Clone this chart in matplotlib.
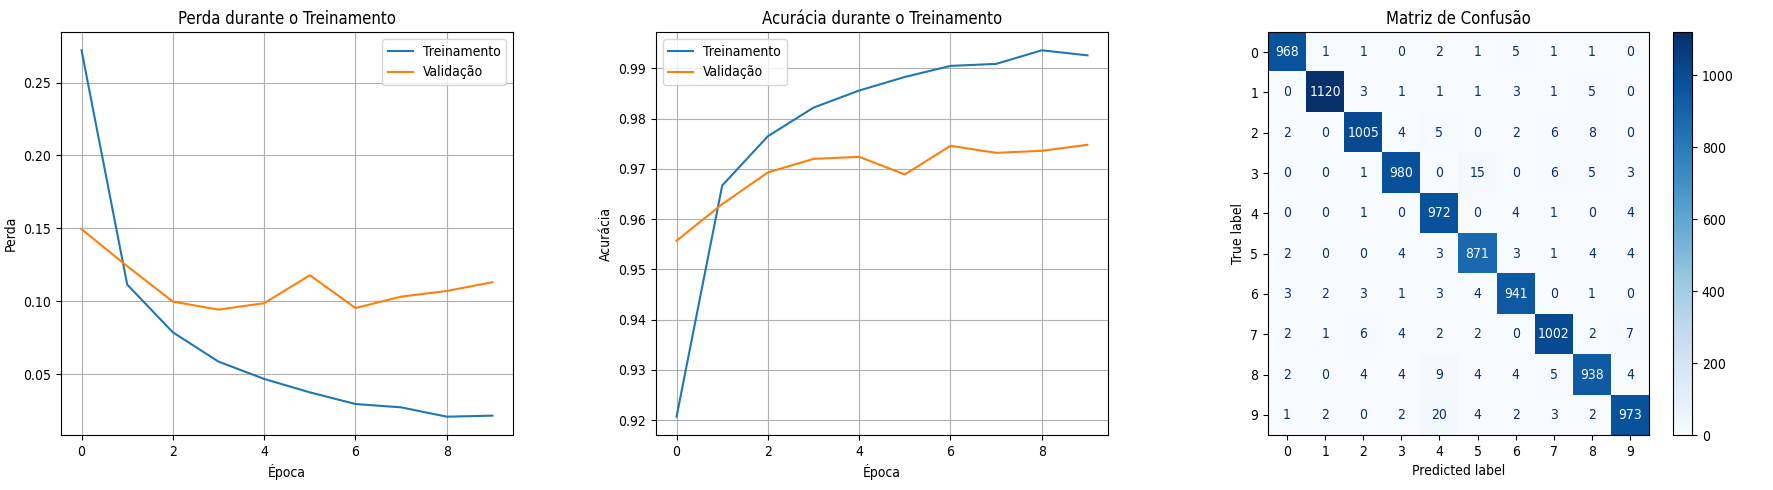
import matplotlib
matplotlib.use('Agg')
import matplotlib.pyplot as plt
import numpy as np

plt.rcParams['font.family'] = ['DejaVu Sans']
plt.rcParams['font.stretch'] = 'condensed'
plt.rcParams['legend.handlelength'] = 1.8
plt.rcParams['legend.handletextpad'] = 0.7

epocas = list(range(10))
perda_treino = [0.2722, 0.1114, 0.0786, 0.0585, 0.0466, 0.0374, 0.0294, 0.0271, 0.0207, 0.0214]
perda_val = [0.1494, 0.1240, 0.0997, 0.0942, 0.0986, 0.1178, 0.0953, 0.1031, 0.1070, 0.1130]
acc_treino = [0.9207, 0.9667, 0.9765, 0.9822, 0.9856, 0.9883, 0.9905, 0.9909, 0.9936, 0.9926]
acc_val = [0.9557, 0.9630, 0.9693, 0.9720, 0.9724, 0.9689, 0.9746, 0.9732, 0.9736, 0.9748]

classes = [str(i) for i in range(10)]
matriz = [
    [968, 1, 1, 0, 2, 1, 5, 1, 1, 0],
    [0, 1120, 3, 1, 1, 1, 3, 1, 5, 0],
    [2, 0, 1005, 4, 5, 0, 2, 6, 8, 0],
    [0, 0, 1, 980, 0, 15, 0, 6, 5, 3],
    [0, 0, 1, 0, 972, 0, 4, 1, 0, 4],
    [2, 0, 0, 4, 3, 871, 3, 1, 4, 4],
    [3, 2, 3, 1, 3, 4, 941, 0, 1, 0],
    [2, 1, 6, 4, 2, 2, 0, 1002, 2, 7],
    [2, 0, 4, 4, 9, 4, 4, 5, 938, 4],
    [1, 2, 0, 2, 20, 4, 2, 3, 2, 973],
]

fig = plt.figure(figsize=(17.74, 4.9), dpi=100)

# perda
ax1 = fig.add_axes([61/1774, 55/490, 452/1774, 403/490])
ax1.plot(epocas, perda_treino, label='Treinamento')
ax1.plot(epocas, perda_val, label='Validação')
ax1.set_title('Perda durante o Treinamento')
ax1.set_xlabel('Época')
ax1.set_ylabel('Perda')
ax1.legend(loc='upper right')
ax1.grid(True)

# acuracia
ax2 = fig.add_axes([656/1774, 55/490, 452/1774, 403/490])
ax2.plot(epocas, acc_treino, label='Treinamento')
ax2.plot(epocas, acc_val, label='Validação')
ax2.set_title('Acurácia durante o Treinamento')
ax2.set_xlabel('Época')
ax2.set_ylabel('Acurácia')
ax2.legend(loc='upper left')
ax2.grid(True)

# matriz de confusao
cm = np.array(matriz)
ax3 = fig.add_axes([1268/1774, 55/490, 381/1774, 403/490])
cax = fig.add_axes([1673/1774, 55/490, 19/1774, 403/490])
cmap = plt.cm.Blues
im = ax3.imshow(cm, cmap=cmap, aspect='auto', interpolation='nearest')
limiar = (cm.max() + cm.min()) / 2.0
for i in range(cm.shape[0]):
    for j in range(cm.shape[1]):
        cor = cmap(0) if cm[i, j] > limiar else cmap(1.0)
        ax3.text(j, i, str(cm[i, j]), ha='center', va='center', color=cor)
ax3.set_xticks(range(10), classes)
ax3.set_yticks(range(10), classes)
ax3.set_xlabel('Predicted label')
ax3.set_ylabel('True label')
ax3.set_title('Matriz de Confusão')
fig.colorbar(im, cax=cax)

plt.savefig('out.png', dpi=100)
